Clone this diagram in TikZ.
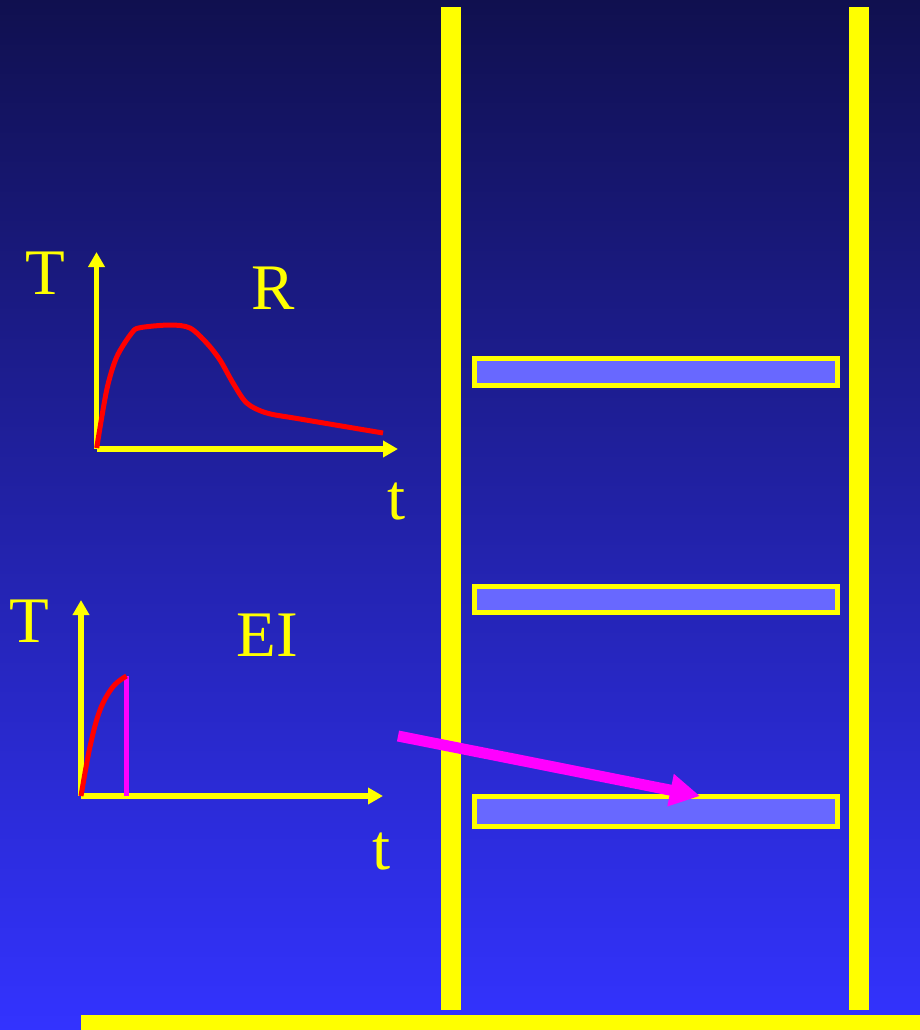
\documentclass[tikz,border=0pt]{standalone}
\usepackage{fontspec}
\setmainfont{Liberation Serif}
\usetikzlibrary{arrows.meta}
\definecolor{bgtop}{HTML}{10104F}
\definecolor{bgmid}{HTML}{2626BB}
\definecolor{bgbot}{HTML}{3333FF}
\definecolor{ylw}{HTML}{FFFF00}
\definecolor{shelffill}{HTML}{6868FF}
\definecolor{mag}{HTML}{FF00FF}
\definecolor{rd}{HTML}{FF0000}
\tikzset{
  lbl/.style={text=ylw, font=\fontsize{65}{65}\selectfont, inner sep=0pt},
  axis/.style={draw=ylw, line width=5.5pt, -{Triangle[length=15pt,width=16pt]}},
  curve/.style={draw=rd, line width=5pt, line join=round},
  pillar/.style={fill=ylw},
  shelf/.style={draw=ylw, fill=shelffill, line width=5pt},
  bigarrow/.style={draw=mag, line width=11pt, -{Triangle[length=30pt,width=31pt]}},
}
\begin{document}
\begin{tikzpicture}[x=1pt,y=-1pt]
\useasboundingbox (0,0) rectangle (920,1030);
\shade[top color=bgtop, middle color=bgmid, bottom color=bgbot] (0,0) rectangle (920,1030);
% pillars and floor
\fill[pillar] (441,7) rectangle (461,1010);
\fill[pillar] (849,7) rectangle (869,1010);
\fill[pillar] (81,1015) rectangle (920,1030);
% shelves
\draw[shelf] (474.2,358) rectangle (837.5,385.5);
\draw[shelf] (474.2,586.5) rectangle (837.5,612.5);
\draw[shelf] (474.2,796.5) rectangle (837.5,826.5);
\coordinate (shelfC) at (700,796);
% top graph
\coordinate (o1) at (96.5,449);
\coordinate (y1) at (96.5,252);
\coordinate (x1) at (398,449);
\draw[axis] (o1) -- (y1);
\draw[axis] (o1) -- (x1);
\draw[curve] plot[smooth, tension=0.5] coordinates {(96.7,448) (106.7,390) (116.7,357) (131.7,333) (140,327.7) (170,325) (190,328) (206.7,343) (220,360) (233,383) (246.7,403) (266.7,413) (300,419) (383,433)};
\node[lbl] (T1) at (45,273) {T};
\node[lbl] (R) at (273,288) {R};
\node[lbl] (t1) at (397,502) {t};
% bottom graph
\coordinate (o2) at (81,796);
\coordinate (y2) at (81,600);
\coordinate (x2) at (383,796);
\draw[axis] (o2) -- (y2);
\draw[axis] (o2) -- (x2);
\coordinate (cut) at (126.5,676);
\draw[mag, line width=4.5pt] (126.5,796) -- (cut);
\draw[curve] plot[smooth, tension=0.6] coordinates {(81,796) (90,746.7) (100,710) (113,686.7) (126.5,676)};
\node[lbl] (T2) at (29,621) {T};
\node[lbl] (EI) at (267,635) {EI};
\node[lbl] (t2) at (382,852) {t};
% magenta arrow
\coordinate (astart) at (398,736);
\draw[bigarrow] (astart) -- (shelfC);
\end{tikzpicture}
\end{document}
